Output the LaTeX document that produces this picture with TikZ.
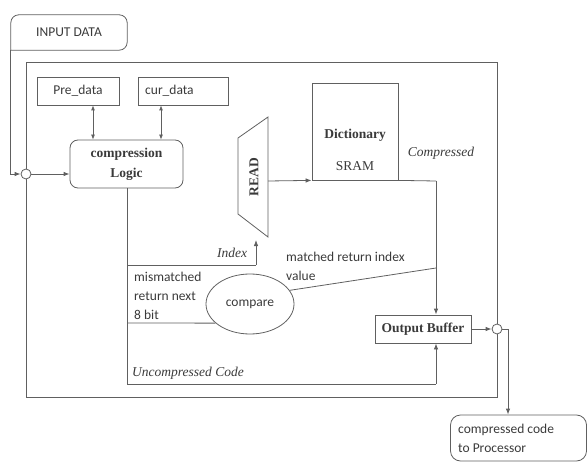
\documentclass[tikz,border=0pt]{standalone}
\usepackage{fontspec}
\setmainfont{Liberation Serif}
\newfontfamily\sansf{Carlito}
\usetikzlibrary{arrows.meta,shapes.geometric}

\definecolor{lc}{HTML}{606060}
\definecolor{tc}{HTML}{3A3A3A}

\tikzset{
  wire/.style={draw=lc, line width=0.8pt},
  arr/.style={wire, -{Latex[length=6pt,width=4.5pt]}},
  dblarr/.style={wire, {Latex[length=5pt,width=4pt]}-{Latex[length=5pt,width=4pt]}},
  sanstext/.style={text=tc, font=\sansf\fontsize{13.5}{19}\selectfont, inner sep=0pt, align=left},
  boldtext/.style={text=tc, font=\bfseries\fontsize{13.5}{20}\selectfont, inner sep=0pt, align=center},
  itext/.style={text=tc, font=\itshape\fontsize{13.5}{16}\selectfont, inner sep=0pt},
  plainbox/.style={wire, rectangle, inner sep=0pt},
  joint/.style={wire, circle, minimum size=10pt, inner sep=0pt, fill=white},
}

\begin{document}
\begin{tikzpicture}[x=1pt,y=-1pt]
\useasboundingbox (0,0) rectangle (588,462);

% enclosing system frame
\node[plainbox, minimum width=471pt, minimum height=335pt] (frame) at (261.5,229.5) {};

% input callout
\node[sanstext, minimum width=116pt, minimum height=35pt, align=center] (inp) at (69,32.5) {INPUT DATA};
\draw[wire] (inp.south west) {[rounded corners=8pt] -- (inp.north west) -- (inp.north east) -- (inp.south east)} -- (inp.south west);

% junctions on the frame
\node[joint] (cin) at (26,174) {};
\node[joint] (cout) at (497,329) {};

% registers
\node[plainbox, minimum width=82pt, minimum height=28pt] (pre) at (78,91) {};
\node[sanstext] (pretxt) at (pre.center) {Pre\_data};
\node[plainbox, minimum width=90pt, minimum height=28pt] (cur) at (183,91) {};
\node[sanstext, anchor=west] (curtxt) at (145,91) {cur\_data};

% compression logic
\node[wire, rectangle, rounded corners=8pt, minimum width=113pt, minimum height=48pt] (logic) at (126.5,164) {};
\node[boldtext] (logictxt) at (logic.center) {compression\\Logic};

% READ trapezoid
\coordinate (r1) at (238,138);
\coordinate (r2) at (268,117);
\coordinate (r3) at (268,237);
\coordinate (r4) at (238,214);
\draw[wire] (r1) -- (r2) -- (r3) -- (r4) -- cycle;
\node[boldtext, rotate=90] (readtxt) at (254,177) {READ};

% dictionary
\node[plainbox, minimum width=86pt, minimum height=97pt] (dict) at (355,131.5) {};
\node[boldtext] (dicttxt) at (355,135) {Dictionary};
\node[text=tc, font=\fontsize{13.5}{16}\selectfont, inner sep=0pt] (sram) at (355,166) {SRAM};
\node[itext] (comptxt) at (441,153) {Compressed};

% compare
\node[wire, ellipse, minimum width=88pt, minimum height=60pt, inner sep=0pt] (cmp) at (250,304) {};
\node[sanstext] (cmptxt) at (cmp.center) {compare};

% output buffer
\node[plainbox, minimum width=96pt, minimum height=28pt] (obuf) at (423,329) {};
\node[boldtext] (obuftxt) at (obuf.center) {Output Buffer};

% processor callout
\node[wire, rectangle, rounded corners=10pt, minimum width=136pt, minimum height=46pt] (proc) at (518.5,438) {};
\node[sanstext, anchor=west] (proctxt) at (458,438) {compressed code\\to Processor};

% labels
\node[itext] (idxtxt) at (232,253) {Index};
\node[sanstext, anchor=north west] (mistxt) at (134,272) {mismatched\\return next\\8 bit};
\node[sanstext, anchor=north west] (mattxt) at (286,252) {matched return index\\value};
\node[itext, anchor=west] (unctxt) at (132,373) {Uncompressed Code};

% routing points
\coordinate (lbot) at (127,384);
\coordinate (idx) at (127,265);
\coordinate (idxtop) at (256,265);
\coordinate (readin) at (256,240);
\coordinate (readout) at (268,181);
\coordinate (dturn) at (436,181);
\coordinate (mjoin) at (436,268);
\coordinate (uturn) at (436,384);
\coordinate (mis) at (127,323);
\coordinate (pturn) at (508,329);

% connectors
\draw[arr] (inp.south west) |- (cin.west);
\draw[arr] (cin.east) -- (cin.east -| logic.west);
\draw[dblarr] (pre.south -| 93,0) -- (logic.north -| 93,0);
\draw[dblarr] (cur.south -| 161,0) -- (logic.north -| 161,0);
\draw[arr] (readout) -- (dict.south west);
\draw[wire] (dict.south east) -- (dturn);
\draw[arr] (dturn) -- (dturn |- obuf.north);
\draw[wire] (logic.south -| lbot) -- (lbot) -- (uturn);
\draw[arr] (uturn) -- (uturn |- obuf.south);
\draw[wire] (idx) -- (idxtop);
\draw[arr] (idxtop) -- (readin);
\draw[wire] (mis) -- (cmp.209);
\draw[wire] (cmp.19) -- (mjoin);
\draw[arr] (obuf.east) -- (cout.west);
\draw[wire] (cout.east) -- (pturn);
\draw[arr] (pturn) -- (pturn |- proc.north);
\end{tikzpicture}
\end{document}
